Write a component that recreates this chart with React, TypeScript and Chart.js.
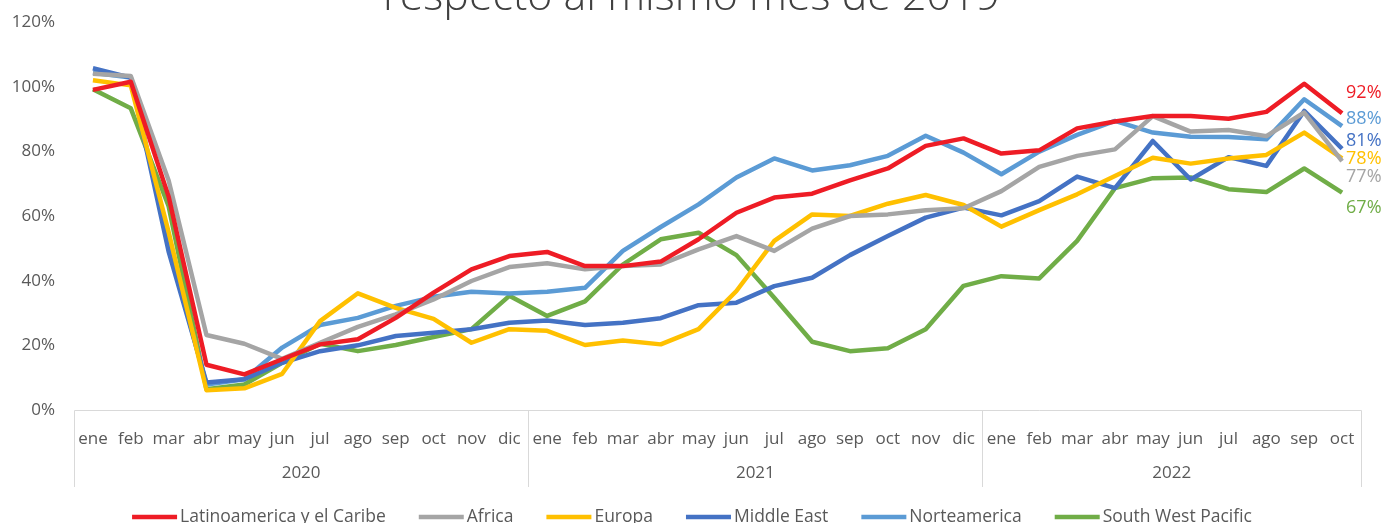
import React, { useEffect, useRef } from "react";
import { Chart, registerables } from "chart.js";

Chart.register(...registerables);

const monthNames = ["ene", "feb", "mar", "abr", "may", "jun", "jul", "ago", "sep", "oct", "nov", "dic"];
const years = ["2020", "2021", "2022"];
const monthsPerYear = [12, 12, 10];
const months: string[] = [...monthNames, ...monthNames, ...monthNames.slice(0, 10)];

const titleText = "respecto al mismo mes de 2019";

const latam = [
  99, 101.5, 66, 14, 11, 15.7, 20.3, 21.9, 28.5, 36.3, 43.5, 47.6,
  48.9, 44.5, 44.5, 45.9, 52.8, 61.0, 65.7, 66.9, 71.0, 74.7, 81.7, 84.0,
  79.3, 80.3, 87.1, 89.2, 90.9, 90.9, 90.1, 92.2, 100.9, 91.8,
];
const africa = [
  104, 103.3, 71, 23.2, 20.5, 15.8, 20.8, 25.7, 29.6, 34.2, 39.9, 44.2,
  45.4, 43.5, 44.5, 45.0, 49.7, 53.8, 49.2, 56.1, 60.0, 60.5, 61.8, 62.4,
  67.7, 75.2, 78.6, 80.6, 90.9, 86.1, 86.6, 84.7, 92.0, 77.0,
];
const europa = [
  102, 100.4, 55, 6.1, 6.7, 11.2, 27.5, 36.1, 31.6, 28.2, 20.8, 25.0,
  24.5, 20.1, 21.5, 20.3, 25.0, 36.8, 52.3, 60.5, 60.0, 63.8, 66.5, 63.4,
  56.7, 61.8, 66.7, 72.4, 78.0, 76.2, 77.8, 78.9, 85.8, 77.8,
];
const middleEast = [
  105.7, 102.8, 49, 8.5, 9.5, 14.6, 18.2, 20.0, 22.9, 23.9, 25.0, 27.0,
  27.7, 26.3, 27.0, 28.4, 32.4, 33.2, 38.3, 40.9, 47.9, 53.8, 59.5, 62.6,
  60.2, 64.6, 72.2, 68.6, 83.2, 71.3, 78.2, 75.5, 92.5, 80.8,
];
const norteamerica = [
  104.3, 102.8, 51, 7.9, 9.5, 19.3, 26.3, 28.5, 32.2, 35.0, 36.6, 36.0,
  36.6, 37.8, 49.2, 56.6, 63.6, 71.9, 77.8, 74.1, 75.7, 78.6, 84.8, 79.6,
  72.9, 79.9, 85.1, 89.4, 85.8, 84.5, 84.4, 83.7, 96.1, 87.8,
];
const southWestPacific = [
  99.2, 93.3, 63, 6.4, 7.9, 14.6, 20.5, 18.2, 20.1, 22.6, 25.0, 35.3,
  29.1, 33.6, 45.0, 52.8, 54.8, 47.9, 34.7, 21.1, 18.2, 19.1, 25.0, 38.4,
  41.4, 40.7, 52.3, 68.6, 71.7, 71.9, 68.3, 67.4, 74.7, 67.2,
];

const seriesNames = ["Latinoamerica y el Caribe", "Africa", "Europa", "Middle East", "Norteamerica", "South West Pacific"];
const seriesData = [latam, africa, europa, middleEast, norteamerica, southWestPacific];
const seriesColors = ["#EE1C25", "#A5A5A5", "#FFC000", "#4472C4", "#5B9BD5", "#70AD47"];
// vertical nudge (px) of the end-of-line value labels, same order as series
const labelNudge = [-20, 16, 0, -8, -7, 15];

const FONT = "'Open Sans', 'Noto Sans', sans-serif";
const TEXT = "#595959";

export default function App() {
  const ref = useRef<HTMLCanvasElement>(null);

  useEffect(() => {
    const canvas = ref.current;
    if (!canvas) return;

    const overlay = {
      id: "overlay",
      afterDraw(chart: any) {
        const ctx: CanvasRenderingContext2D = chart.ctx;
        const xs = chart.scales.x;
        const area = chart.chartArea;
        const step = xs.getPixelForValue(1) - xs.getPixelForValue(0);
        ctx.save();

        // axis frame lines
        ctx.strokeStyle = "#D9D9D9";
        ctx.lineWidth = 1;
        ctx.beginPath();
        const by = Math.round(area.bottom) + 0.5;
        const bounds: number[] = [0];
        let acc = 0;
        monthsPerYear.forEach((n) => {
          acc += n;
          bounds.push(acc);
        });
        const firstX = Math.round(xs.getPixelForValue(0) - step / 2) + 0.5;
        const lastX = Math.round(xs.getPixelForValue(acc) - step / 2) + 0.5;
        ctx.moveTo(firstX, by);
        ctx.lineTo(lastX, by);
        bounds.forEach((b) => {
          const px = Math.round(xs.getPixelForValue(b) - step / 2) + 0.5;
          ctx.moveTo(px, by);
          ctx.lineTo(px, 487);
        });
        ctx.stroke();

        // year labels
        ctx.fillStyle = TEXT;
        ctx.font = `17px ${FONT}`;
        ctx.textAlign = "center";
        ctx.textBaseline = "middle";
        years.forEach((yr, i) => {
          const a = xs.getPixelForValue(bounds[i]) - step / 2;
          const b = xs.getPixelForValue(bounds[i + 1]) - step / 2;
          ctx.fillText(yr, (a + b) / 2, 473);
        });

        // end-of-line value labels
        ctx.font = `18px ${FONT}`;
        ctx.textAlign = "left";
        chart.data.datasets.forEach((ds: any, i: number) => {
          const meta = chart.getDatasetMeta(i);
          const pt = meta.data[meta.data.length - 1];
          const v = ds.data[ds.data.length - 1];
          ctx.fillStyle = ds.borderColor;
          ctx.fillText(`${Math.round(v)}%`, pt.x + 4, pt.y + labelNudge[i]);
        });

        // title (cut off at top)
        let ts = 40;
        ctx.font = `300 ${ts}px ${FONT}`;
        const w = ctx.measureText(titleText).width;
        ts = (ts * 617) / w;
        ctx.font = `300 ${ts}px ${FONT}`;
        ctx.fillStyle = "#404040";
        ctx.textAlign = "center";
        ctx.textBaseline = "alphabetic";
        ctx.fillText(titleText, 691.5, 10);

        // legend
        ctx.font = `17.5px ${FONT}`;
        ctx.textBaseline = "middle";
        ctx.textAlign = "left";
        const sw = 45, gap = 3, itemGap = 33;
        const widths = seriesNames.map((n) => ctx.measureText(n).width);
        const total = widths.reduce((s, wv) => s + sw + gap + wv, 0) + itemGap * (seriesNames.length - 1);
        let lx = 692 - total / 2;
        const ly = 517;
        seriesNames.forEach((n, i) => {
          ctx.strokeStyle = seriesColors[i];
          ctx.lineWidth = 4.5;
          ctx.lineCap = "butt";
          ctx.beginPath();
          ctx.moveTo(lx, ly);
          ctx.lineTo(lx + sw, ly);
          ctx.stroke();
          ctx.fillStyle = TEXT;
          ctx.fillText(n, lx + sw + gap, ly);
          lx += sw + gap + widths[i] + itemGap;
        });

        ctx.restore();
      },
    };

    const chart = new Chart(canvas, {
      type: "line",
      data: {
        labels: months,
        datasets: seriesNames.map((name, i) => ({
          label: name,
          data: seriesData[i],
          borderColor: seriesColors[i],
          backgroundColor: seriesColors[i],
          borderWidth: 4.5,
          pointRadius: 0,
          tension: 0,
          fill: false,
          borderJoinStyle: "round" as const,
        })),
      },
      options: {
        responsive: false,
        animation: false,
        devicePixelRatio: 1,
        layout: { padding: { top: 22, right: 21, left: 0, bottom: 0 } },
        plugins: {
          legend: { display: false },
          title: { display: false },
          tooltip: { enabled: false },
        },
        scales: {
          x: {
            type: "category",
            offset: true,
            grid: { display: false, drawTicks: false },
            border: { display: false },
            ticks: {
              color: TEXT,
              font: { family: FONT, size: 17 },
              padding: 19,
              maxRotation: 0,
              autoSkip: false,
            },
            afterFit: (s: any) => {
              s.height = 113;
              s.paddingLeft = 0;
              s.paddingRight = 0;
            },
          },
          y: {
            min: 0,
            max: 120,
            grid: { display: false, drawTicks: false },
            border: { display: false },
            ticks: {
              stepSize: 20,
              color: TEXT,
              font: { family: FONT, size: 17 },
              padding: 19,
              callback: (v: any) => `${v}%`,
            },
            afterFit: (s: any) => {
              s.width = 74;
              s.paddingTop = 0;
              s.paddingBottom = 0;
            },
          },
        },
      },
      plugins: [overlay],
    });

    return () => chart.destroy();
  }, []);

  return (
    <div style={{ position: "absolute", left: 0, top: 0, width: 1382, height: 523, background: "#fff" }}>
      <canvas ref={ref} width={1382} height={523} style={{ width: 1382, height: 523, display: "block" }} />
    </div>
  );
}
